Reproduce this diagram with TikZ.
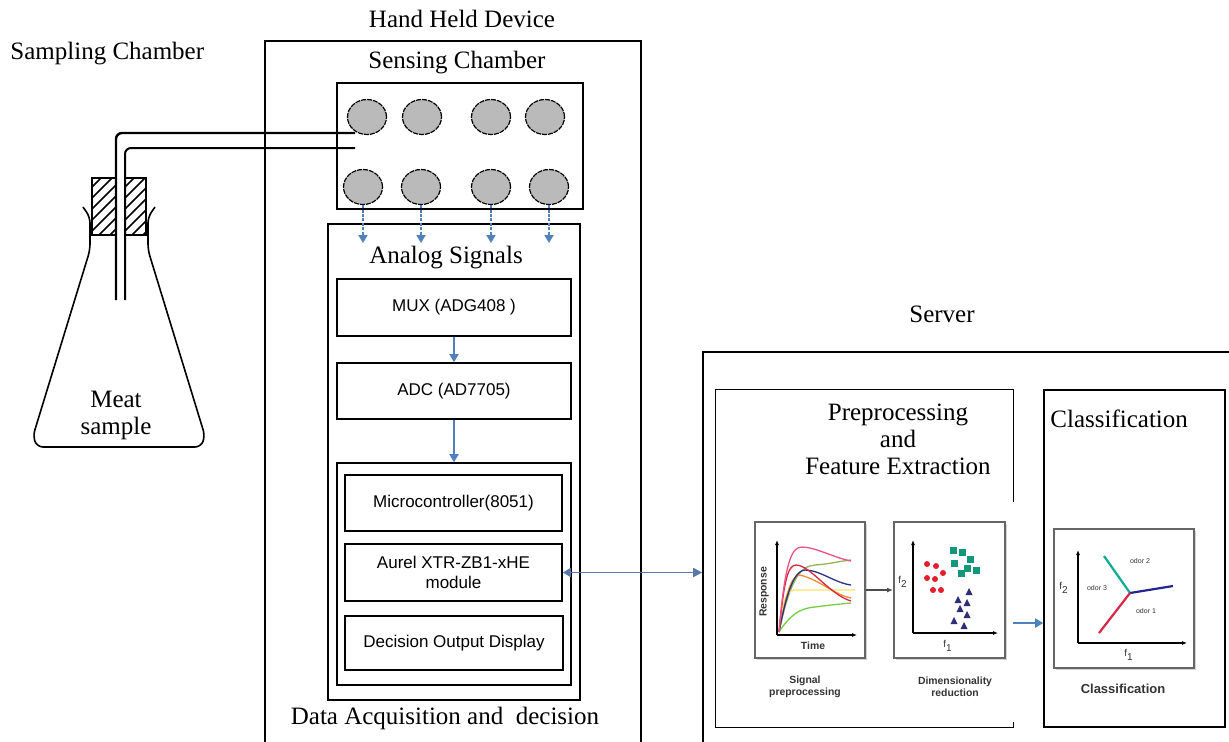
\documentclass[tikz,border=0pt]{standalone}
\usepackage{fontspec}
\setmainfont{Liberation Serif}
\setsansfont{Liberation Sans}
\usetikzlibrary{shapes.geometric,arrows.meta,shadows}

\definecolor{sigblue}{RGB}{79,129,189}
\definecolor{linkblue}{RGB}{88,120,172}
\definecolor{curvepink}{RGB}{232,84,130}
\definecolor{curvered}{RGB}{214,40,70}
\definecolor{curvenavy}{RGB}{40,52,128}
\definecolor{curveorange}{RGB}{240,140,50}
\definecolor{curveyellow}{RGB}{250,228,100}
\definecolor{curvegreen}{RGB}{120,205,70}
\definecolor{curveolive}{RGB}{150,180,90}
\definecolor{dotred}{RGB}{228,30,45}
\definecolor{dotteal}{RGB}{20,150,120}
\definecolor{dotnavy}{RGB}{45,45,120}

\tikzset{
  box/.style={draw, line width=0.8pt, inner sep=0pt},
  blk/.style={box, font=\sffamily\fontsize{8.5}{10}\selectfont, align=center},
  lbl/.style={font=\fontsize{12.5}{13.5}\selectfont, inner sep=0pt, align=center},
  sensor/.style={ellipse, draw, fill=black!27, line width=0.6pt, dash pattern=on 2.5pt off 0.5pt,
                 minimum width=19.5pt, minimum height=17.5pt, inner sep=0pt},
  sig/.style={sigblue, line width=0.9pt, -{Triangle[length=4pt,width=4.5pt]}},
  plotbox/.style={draw=black!60, line width=1pt, fill=white, inner sep=0pt,
                  drop shadow={opacity=0.35, shadow xshift=1pt, shadow yshift=-1pt}},
  tiny/.style={font=\sffamily\bfseries\fontsize{5.2}{6.2}\selectfont, align=center, inner sep=0pt, text=black!80},
  axis/.style={line width=0.6pt, -{Latex[length=2.5pt,width=2pt]}},
}

\begin{document}
\begin{tikzpicture}[x=0.5pt, y=-0.5pt]
\useasboundingbox (0,0) rectangle (1229,741);
\clip (0,0) rectangle (1229,741);

% titles
\node[lbl, anchor=west] (samptitle) at (10,54) {Sampling Chamber};
\node[lbl] (handtitle) at (462,19) {Hand Held Device};
\node[lbl] (servtitle) at (942,314) {Server};

% hand held device
\node[box, minimum width=188pt, minimum height=379.5pt] (hand) at (453,420.5) {};
\node[lbl] (sensetitle) at (457,63) {Sensing Chamber};
\node[box, minimum width=123pt, minimum height=63pt] (sense) at (460,146) {};

\node[sensor] (s1) at (367,117) {};
\node[sensor] (s2) at (422,117) {};
\node[sensor] (s3) at (491,117) {};
\node[sensor] (s4) at (545,117) {};
\node[sensor] (s5) at (363,187) {};
\node[sensor] (s6) at (421,187) {};
\node[sensor] (s7) at (491,187) {};
\node[sensor] (s8) at (549,187) {};

\node[box, minimum width=126pt, minimum height=238pt] (analog) at (454,462) {};
\node[lbl] (analogtitle) at (446,258) {Analog Signals};
\coordinate (sigend) at (0,243);
\foreach \i in {5,...,8}
  \draw[sig, dash pattern=on 1.5pt off 0.7pt] (s\i.south) -- (s\i.south |- sigend);

\node[blk, minimum width=117pt, minimum height=28.5pt] (mux) at (454,307.5) {MUX (ADG408 )};
\node[blk, minimum width=117pt, minimum height=28pt] (adc) at (454,391) {ADC (AD7705)};
\node[box, minimum width=117pt, minimum height=111pt] (grp) at (454,574) {};
\node[blk, minimum width=108.5pt, minimum height=28pt] (mcu) at (453.5,503) {Microcontroller(8051)};
\node[blk, minimum width=108.5pt, minimum height=28.5pt] (aurel) at (453.5,572.5) {Aurel XTR-ZB1-xHE\\module};
\node[blk, minimum width=109pt, minimum height=27pt] (disp) at (454,643) {Decision Output Display};
\draw[sig] (mux) -- (adc);
\draw[sig] (adc) -- (grp);
\node[lbl] (daqtitle) at (445,718) {Data Acquisition and \ decision};

% flask with stopper and tubes
\draw[line width=0.8pt, rounded corners=3pt] (83,207) -- (90,217) -- (90,250) -- (33,436) -- (37,447)
  -- (201,447) -- (205,436) -- (148,250) -- (148,217) -- (155,207);
\begin{scope}
  \clip (92,178) rectangle (116,235) (125,178) rectangle (146,235);
  \foreach \c in {268,279,...,392}
    \draw[line width=0.8pt] (80,\c-80) -- (160,\c-160);
\end{scope}
\draw[line width=0.8pt] (92,178) rectangle (116,235) (125,178) rectangle (146,235);
\draw[line width=1.2pt, rounded corners=3pt] (116,300) -- (116,133) -- (355,133);
\draw[line width=1pt, rounded corners=3pt] (125,300) -- (125,148) -- (355,148);
\node[lbl] (meat) at (116,415) {Meat\\sample};

% server
\node[box, minimum width=288.5pt, minimum height=224pt] (server) at (991.5,576) {};
\node[minimum width=148.5pt, minimum height=168.5pt, inner sep=0pt] (prep) at (864.5,558.5) {};
\draw[line width=0.8pt] ([yshift=-56pt]prep.north east) -- (prep.north east) -- (prep.north west)
  -- (prep.south west) -- (prep.south east) -- ++(0,-5);
\node[lbl] (preptitle) at (898,439) {Preprocessing\\and\\Feature Extraction};
\node[box, minimum width=90.5pt, minimum height=168.5pt] (cls) at (1134.5,558.5) {};
\node[lbl, anchor=west] (clstitle) at (1050,419) {Classification};

\draw[linkblue, line width=0.9pt, {Triangle[length=4pt,width=4.5pt]}-{Triangle[length=4.5pt,width=4.5pt]}]
  (aurel.east) -- (aurel.east -| server.west);
\draw[sig] ([yshift=-32.25pt]prep.east) -- ([yshift=-32.25pt]cls.west);

% signal preprocessing plot
\node[plotbox, minimum width=55pt, minimum height=68pt] (sigplot) at (810,590) {};
\draw[axis] (777,635) -- (777,540);
\draw[axis] (777,635) -- (857,635);
\begin{scope}[line width=0.65pt]
  \draw[curveolive] (779,632) .. controls (790,580) and (800,566) .. (815,565) .. controls (830,564) and (840,561) .. (851,560);
  \draw[curveyellow] (779,632) .. controls (783,600) and (786,590) .. (795,590) -- (855,590);
  \draw[curvegreen] (779,632) .. controls (790,615) and (800,608) .. (815,607) .. controls (830,605) and (840,604) .. (851,603);
  \draw[curveorange] (779,632) .. controls (785,600) and (790,575) .. (800,575) .. controls (820,580) and (835,595) .. (851,598);
  \draw[curvenavy] (779,632) .. controls (787,590) and (795,570) .. (805,570) .. controls (820,570) and (835,583) .. (851,585);
  \draw[curvered] (779,632) .. controls (784,580) and (788,565) .. (796,565) .. controls (810,565) and (830,595) .. (851,601);
  \draw[curvepink] (779,632) .. controls (785,560) and (792,547) .. (802,547) .. controls (815,547) and (835,558) .. (851,561);
\end{scope}
\node[tiny, rotate=90] (resp) at (764,592) {Response};
\node[tiny] (time) at (813,646) {Time};
\node[tiny] (sigcap) at (805,687) {Signal\\preprocessing};

% dimensionality reduction plot
\node[plotbox, minimum width=55.5pt, minimum height=68pt] (dimplot) at (949.5,590) {};
\draw[axis] (913,633) -- (913,540);
\draw[axis] (913,633) -- (998,633);
\foreach \p in {(927,564),(936,566),(943,573),(927,578),(935,579),(933,590),(941,590)}
  \fill[dotred] \p circle (3);
\foreach \p in {(953,550),(962,552),(970,559),(954,563),(967,568),(976,570),(961,573)}
  \fill[dotteal] \p ++(-3.5,-3.5) rectangle ++(7,7);
\foreach \p in {(969,592),(958,600),(967,603),(960,609),(967,615),(954,621),(964,626)}
  \fill[dotnavy] \p ++(0,-4) -- ++(3.5,7) -- ++(-7,0) -- cycle;
\node[tiny, font=\sffamily\fontsize{5}{6}\selectfont] (f2a) at (903,582) {f\textsubscript{2}};
\node[tiny, font=\sffamily\fontsize{5}{6}\selectfont] (f1a) at (948,646) {f\textsubscript{1}};
\node[tiny] (dimcap) at (955,687) {Dimensionality\\reduction};
\draw[black!70, line width=0.6pt, -{Latex[length=3pt,width=2.5pt]}] (sigplot) -- (dimplot);

% classification plot
\node[plotbox, minimum width=70pt, minimum height=69.5pt] (clsplot) at (1124,598.5) {};
\draw[axis] (1078,643) -- (1078,550);
\draw[axis] (1078,643) -- (1187,643);
\coordinate (odc) at (1130,593);
\draw[dotteal!80!cyan, line width=1.1pt] (odc) -- (1104,556);
\draw[dotnavy!80!blue, line width=1.1pt] (odc) -- (1173,586);
\draw[curvered, line width=1.1pt] (odc) -- (1099,633);
\node[tiny, font=\sffamily\fontsize{3.5}{4}\selectfont] (od2) at (1140,561) {odor 2};
\node[tiny, font=\sffamily\fontsize{3.5}{4}\selectfont] (od3) at (1097,588) {odor 3};
\node[tiny, font=\sffamily\fontsize{3.5}{4}\selectfont] (od1) at (1146,611) {odor 1};
\node[tiny, font=\sffamily\fontsize{5}{6}\selectfont] (f2b) at (1064,588) {f\textsubscript{2}};
\node[tiny, font=\sffamily\fontsize{5}{6}\selectfont] (f1b) at (1129,655) {f\textsubscript{1}};
\node[tiny, font=\sffamily\bfseries\fontsize{6.5}{7.5}\selectfont] (clscap) at (1123,689) {Classification};
\end{tikzpicture}
\end{document}
